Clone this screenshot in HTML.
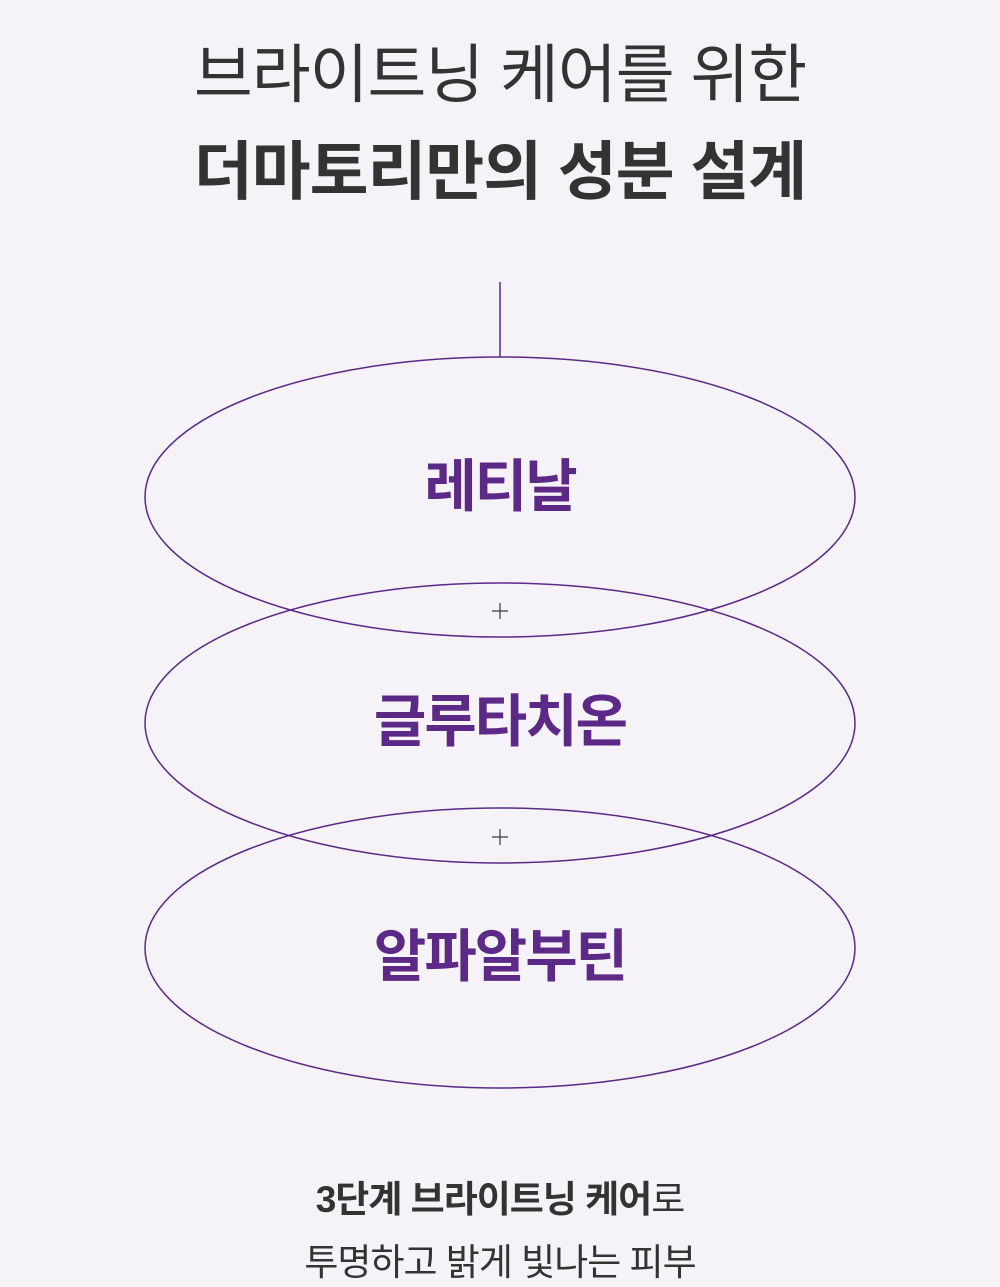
<!DOCTYPE html>
<html><head><meta charset="utf-8"><style>
html,body{margin:0;padding:0}
body{width:1000px;height:1280px;background:#f5f3f8;position:relative;overflow:hidden;font-family:"Liberation Sans","Noto Sans CJK KR",sans-serif;color:#333}
.t{position:absolute;left:0;width:1000px;text-align:center;white-space:nowrap}
.lab{color:#5c2a86;font-weight:700;font-size:57px;letter-spacing:-2px}
</style></head><body>
<svg style="position:absolute;left:0;top:0" width="1000" height="1280">
<line x1="500" y1="282" x2="500" y2="357" stroke="#5c2a86" stroke-width="1.5"/>
<g fill="none" stroke="#5c2a86" stroke-width="1.5">
<ellipse cx="500" cy="497" rx="355" ry="140"/>
<ellipse cx="500" cy="723" rx="355" ry="140"/>
<ellipse cx="500" cy="948" rx="355" ry="140"/>
</g>
<g stroke="#444" stroke-width="1.3">
<line x1="492" y1="611" x2="508" y2="611"/><line x1="500" y1="603" x2="500" y2="619"/>
<line x1="492" y1="837" x2="508" y2="837"/><line x1="500" y1="829" x2="500" y2="845"/>
</g>
</svg>
<div class="t" style="top:36px;font-size:64px;line-height:78px;letter-spacing:-1px">브라이트닝 케어를 위한</div>
<div class="t" style="top:133px;font-size:64px;line-height:78px;font-weight:700;letter-spacing:-1px">더마토리만의 성분 설계</div>
<div class="t lab" style="top:452px;line-height:70px">레티날</div>
<div class="t lab" style="top:687px;line-height:70px">글루타치온</div>
<div class="t lab" style="top:922px;line-height:70px">알파알부틴</div>
<div class="t" style="top:1176px;font-size:37px;line-height:48px;letter-spacing:-1px"><b>3단계 브라이트닝 케어</b>로</div>
<div class="t" style="top:1239px;font-size:37px;line-height:48px;letter-spacing:-1px">투명하고 밝게 빛나는 피부</div>
</body></html>
